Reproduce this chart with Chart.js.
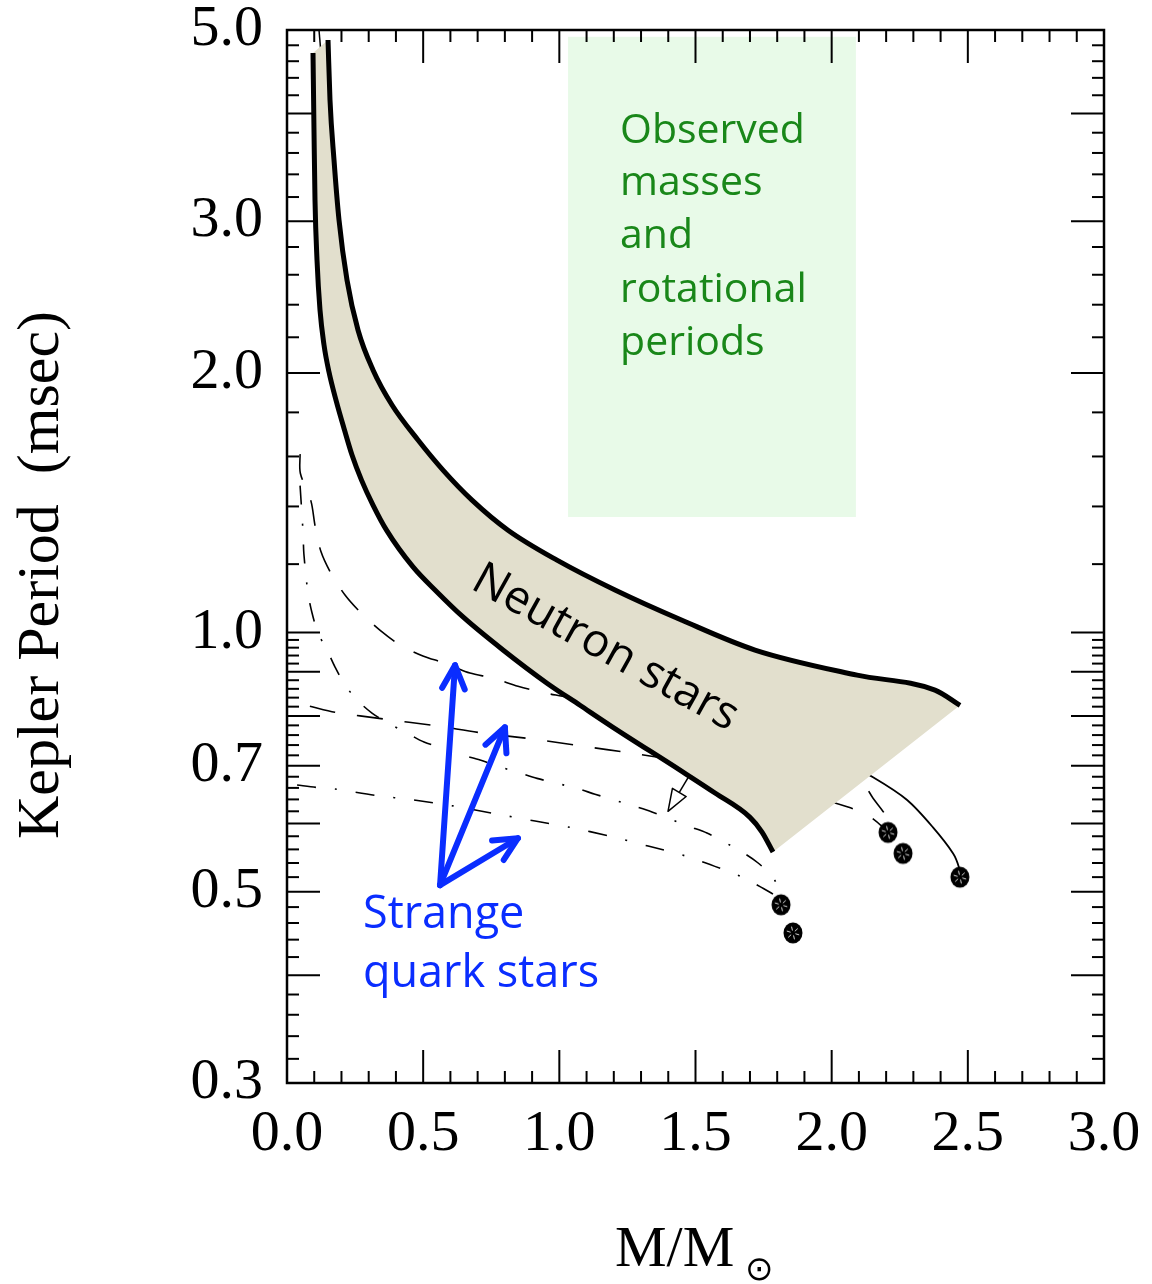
<!DOCTYPE html>
<html>
<head>
<meta charset="utf-8">
<script src="https://cdn.jsdelivr.net/npm/chart.js@4.4.1/dist/chart.umd.min.js"></script>
<style>
  html, body { margin: 0; padding: 0; background: #fff; }
  #c { display: block; }
</style>
</head>
<body>
<canvas id="c" width="1152" height="1284"></canvas>
<script>
// eixos
const xTickValues = [0, 0.5, 1.0, 1.5, 2.0, 2.5, 3.0];
const yTickValues = [0.3, 0.5, 0.7, 1.0, 2.0, 3.0, 5.0];

// faixa das estrelas de neutrons (borda superior / inferior)
const upperMass = [0.1506, 0.1579, 0.1726, 0.1910, 0.2203, 0.2607, 0.3158, 0.3856, 0.4810, 0.5728, 0.6793, 0.8115, 0.9914, 1.2044, 1.4504, 1.7185, 2.0934, 2.3795, 2.4713];
const upperPeriod = [4.868, 4.147, 3.533, 3.009, 2.564, 2.243, 2.016, 1.836, 1.672, 1.543, 1.424, 1.314, 1.213, 1.120, 1.033, 0.954, 0.892, 0.857, 0.823];
const lowerMass = [0.0955, 0.0991, 0.1028, 0.1102, 0.1212, 0.1359, 0.1542, 0.1799, 0.2111, 0.2387, 0.2736, 0.3158, 0.3654, 0.4627, 0.5508, 0.6463, 0.7932, 0.9547, 1.0759, 1.1971, 1.4431, 1.5716, 1.7001, 1.7442, 1.7846];
const lowerPeriod = [4.701, 3.828, 3.175, 2.704, 2.366, 2.155, 2.005, 1.860, 1.717, 1.606, 1.502, 1.405, 1.314, 1.191, 1.114, 1.042, 0.954, 0.873, 0.823, 0.776, 0.692, 0.651, 0.610, 0.5865, 0.556];

// estrelas estranhas: curvas tracejadas
const dashAMass = [0.048, 0.049, 0.088, 0.103, 0.125, 0.162, 0.213, 0.272, 0.341, 0.415, 0.499, 0.580, 0.672, 0.756, 0.848, 0.936, 1.028, 1.333, 1.700, 1.957, 2.104, 2.152, 2.203, 2.207];
const dashAPeriod = [1.61, 1.53, 1.42, 1.33, 1.24, 1.17, 1.105, 1.053, 1.006, 0.967, 0.939, 0.921, 0.897, 0.885, 0.866, 0.852, 0.841, 0.802, 0.750, 0.707, 0.674, 0.642, 0.609, 0.586];
const dashBMass = [0.084, 0.176, 0.360, 0.536, 0.720, 0.903, 1.083, 1.267, 1.517, 1.810, 2.060, 2.148, 2.233, 2.262];
const dashBPeriod = [0.821, 0.808, 0.793, 0.780, 0.764, 0.752, 0.738, 0.724, 0.702, 0.661, 0.627, 0.609, 0.574, 0.554];

// curvas traco-ponto
const dotDashCMass = [0.048, 0.059, 0.062, 0.077, 0.092, 0.114, 0.147, 0.176, 0.213, 0.257, 0.312, 0.371, 0.441, 0.503, 0.573, 0.643, 0.709, 0.782, 0.848, 0.918, 1.058, 1.131, 1.271, 1.340, 1.472, 1.542, 1.671, 1.730, 1.785, 1.814, 1.814];
const dotDashCPeriod = [1.48, 1.304, 1.233, 1.111, 1.053, 0.998, 0.954, 0.912, 0.869, 0.835, 0.806, 0.785, 0.764, 0.746, 0.734, 0.721, 0.711, 0.698, 0.688, 0.677, 0.660, 0.649, 0.629, 0.619, 0.596, 0.585, 0.556, 0.540, 0.519, 0.496, 0.483];
const dotDashDMass = [0.037, 0.106, 0.176, 0.323, 0.466, 0.610, 0.753, 0.911, 1.039, 1.186, 1.326, 1.465, 1.601, 1.671, 1.737, 1.799, 1.814];
const dotDashDPeriod = [0.665, 0.661, 0.658, 0.647, 0.639, 0.629, 0.617, 0.604, 0.594, 0.580, 0.565, 0.550, 0.531, 0.520, 0.507, 0.493, 0.483];

// linha fina continua
const solidMass = [2.0, 2.152, 2.277, 2.372, 2.446, 2.468, 2.471];
const solidPeriod = [0.72, 0.679, 0.639, 0.594, 0.554, 0.533, 0.520];
const stubMass = [0.1175, 0.1285];
const stubPeriod = [5.0, 4.55];

// massas maximas (pontos)
const maxMass = [1.814, 1.858, 2.207, 2.262, 2.471];
const maxPeriod = [0.483, 0.448, 0.586, 0.554, 0.520];

// caixa de observacoes
const obsMass = [1.032, 2.089];
const obsPeriod = [1.361, 4.91];
const obsLines = ["Observed", "masses", "and", "rotational", "periods"];
const obsLinePeriod = [3.70, 3.22, 2.79, 2.42, 2.10];

// setas azuis
const quarkTail = [0.562, 0.509];
const quarkHeadMass = [0.617, 0.800, 0.848];
const quarkHeadPeriod = [0.916, 0.776, 0.577];

const pts = (xs, ys) => xs.map((x, i) => ({ x: x, y: ys[i] }));

const BAND = 'rgb(226,223,205)';
const GREEN_BOX = 'rgb(232,250,232)';
const GREEN_TXT = 'rgb(25,135,25)';
const BLUE = 'rgb(10,45,255)';
const SERIF = "'Liberation Serif', 'Times New Roman', serif";
const SANS = "'Open Sans', sans-serif";

const makeDot = () => {
  const c = document.createElement('canvas');
  c.width = 22; c.height = 24;
  const g = c.getContext('2d');
  g.fillStyle = '#000';
  g.beginPath(); g.ellipse(11, 12, 9.5, 10.5, 0, 0, Math.PI * 2); g.fill();
  g.strokeStyle = 'rgba(255,255,255,0.85)'; g.lineWidth = 1;
  for (let k = 0; k < 6; k++) {
    const a = k * Math.PI / 3 + 0.3;
    g.beginPath();
    g.moveTo(11 + 2.5 * Math.cos(a), 12 + 2.5 * Math.sin(a));
    g.lineTo(11 + 6.5 * Math.cos(a), 12 + 6.5 * Math.sin(a));
    g.stroke();
  }
  return c;
};

const line = (ctx, x1, y1, x2, y2) => {
  ctx.beginPath(); ctx.moveTo(x1, y1); ctx.lineTo(x2, y2); ctx.stroke();
};

// caixa verde + marcas dos eixos (antes das curvas)
const backPlugin = {
  id: 'backPlugin',
  beforeDatasetsDraw(chart) {
    const { ctx, chartArea: a, scales: { x, y } } = chart;
    ctx.save();
    const bx1 = x.getPixelForValue(obsMass[0]), bx2 = x.getPixelForValue(obsMass[1]);
    const by1 = y.getPixelForValue(obsPeriod[1]), by2 = y.getPixelForValue(obsPeriod[0]);
    ctx.fillStyle = GREEN_BOX;
    ctx.fillRect(bx1, by1, bx2 - bx1, by2 - by1);

    ctx.strokeStyle = '#000';
    ctx.lineWidth = 2;
    for (let i = 0; i <= 30; i++) {
      const px = x.getPixelForValue(i / 10);
      const len = i % 5 === 0 ? 33 : 12;
      line(ctx, px, a.bottom, px, a.bottom - len);
      line(ctx, px, a.top, px, a.top + len);
    }
    const yTicks = [];
    for (let i = 15; i <= 50; i++) yTicks.push([i / 50, i % 5 === 0]);
    for (let i = 6; i <= 25; i++) yTicks.push([i / 5, i % 5 === 0]);
    yTicks.forEach(([v, major]) => {
      const py = y.getPixelForValue(v);
      const len = major ? 33 : 12;
      line(ctx, a.left, py, a.left + len, py);
      line(ctx, a.right, py, a.right - len, py);
    });
    ctx.restore();
  },
  afterDatasetsDraw(chart) {
    const { ctx, chartArea: a, scales: { x, y } } = chart;
    ctx.save();
    // moldura
    ctx.strokeStyle = '#000';
    ctx.lineWidth = 2.5;
    ctx.strokeRect(a.left, a.top, a.right - a.left, a.bottom - a.top);

    // texto verde
    ctx.fillStyle = GREEN_TXT;
    ctx.font = `41px ${SANS}`;
    ctx.textAlign = 'left';
    ctx.textBaseline = 'alphabetic';
    const tx = x.getPixelForValue(1.223);
    obsLines.forEach((t, i) => ctx.fillText(t, tx, y.getPixelForValue(obsLinePeriod[i])));

    // Neutron stars
    ctx.save();
    ctx.translate(x.getPixelForValue(1.168), y.getPixelForValue(0.959));
    ctx.rotate(29 * Math.PI / 180);
    ctx.fillStyle = '#000';
    ctx.font = `46px ${SANS}`;
    ctx.textAlign = 'center';
    ctx.textBaseline = 'middle';
    ctx.fillText('Neutron stars', 0, 0);
    ctx.restore();

    // setas azuis
    ctx.strokeStyle = BLUE;
    ctx.lineWidth = 6;
    ctx.lineCap = 'round';
    ctx.lineJoin = 'round';
    const tx0 = x.getPixelForValue(quarkTail[0]), ty0 = y.getPixelForValue(quarkTail[1]);
    quarkHeadMass.forEach((m, i) => {
      const hx = x.getPixelForValue(m), hy = y.getPixelForValue(quarkHeadPeriod[i]);
      line(ctx, tx0, ty0, hx, hy);
      const ang = Math.atan2(hy - ty0, hx - tx0);
      const L = 26, w = 0.45;
      ctx.beginPath();
      ctx.moveTo(hx - L * Math.cos(ang - w), hy - L * Math.sin(ang - w));
      ctx.lineTo(hx, hy);
      ctx.lineTo(hx - L * Math.cos(ang + w), hy - L * Math.sin(ang + w));
      ctx.stroke();
    });
    ctx.fillStyle = BLUE;
    ctx.font = `45px ${SANS}`;
    ctx.textAlign = 'left';
    ctx.textBaseline = 'alphabetic';
    const qx = x.getPixelForValue(0.279);
    ctx.fillText('Strange', qx, y.getPixelForValue(0.454));
    ctx.fillText('quark stars', qx, y.getPixelForValue(0.388));

    // seta vazada
    ctx.strokeStyle = '#000';
    ctx.lineWidth = 1.5;
    ctx.lineCap = 'butt';
    const ax0 = x.getPixelForValue(1.475), ay0 = y.getPixelForValue(0.68);
    const ax1 = x.getPixelForValue(1.399), ay1 = y.getPixelForValue(0.620);
    const ang = Math.atan2(ay1 - ay0, ax1 - ax0);
    const hl = 22, hw = 8;
    const bxp = ax1 - hl * Math.cos(ang), byp = ay1 - hl * Math.sin(ang);
    line(ctx, ax0, ay0, bxp, byp);
    ctx.beginPath();
    ctx.moveTo(ax1, ay1);
    ctx.lineTo(bxp + hw * Math.sin(ang), byp - hw * Math.cos(ang));
    ctx.lineTo(bxp - hw * Math.sin(ang), byp + hw * Math.cos(ang));
    ctx.closePath();
    ctx.fillStyle = '#fff';
    ctx.fill();
    ctx.stroke();

    // titulos dos eixos
    ctx.fillStyle = '#000';
    ctx.save();
    ctx.translate(42, 575);
    ctx.rotate(-Math.PI / 2);
    ctx.font = `60px ${SERIF}`;
    ctx.textAlign = 'center';
    ctx.textBaseline = 'middle';
    ctx.fillText('Kepler Period  (msec)', 0, 0);
    ctx.restore();
    ctx.font = `58px ${SERIF}`;
    ctx.textAlign = 'left';
    ctx.textBaseline = 'alphabetic';
    ctx.fillText('M/M', 615, 1266);
    ctx.font = `34px 'DejaVu Sans', sans-serif`;
    ctx.fillText('\u2299', 745, 1280);
    ctx.restore();
  }
};

const bandPolygon = pts(upperMass, upperPeriod).concat(pts(lowerMass, lowerPeriod).reverse());

const dotDash = [19, 19, 2, 19];
const dashed = [26, 22];

const noPad = s => { s.paddingTop = 0; s.paddingBottom = 0; s.paddingLeft = 0; s.paddingRight = 0; };

new Chart(document.getElementById('c'), {
  type: 'scatter',
  data: {
    datasets: [
      { label: 'max', data: pts(maxMass, maxPeriod), pointStyle: makeDot(), pointRadius: 10, showLine: false, order: 0 },
      { label: 'upper', data: pts(upperMass, upperPeriod), showLine: true, borderColor: '#000', borderWidth: 5, pointRadius: 0, cubicInterpolationMode: 'monotone', order: 1 },
      { label: 'lower', data: pts(lowerMass, lowerPeriod), showLine: true, borderColor: '#000', borderWidth: 5, pointRadius: 0, cubicInterpolationMode: 'monotone', order: 1 },
      { label: 'band', data: bandPolygon, showLine: true, fill: 'shape', backgroundColor: BAND, borderColor: 'rgba(0,0,0,0)', borderWidth: 1, pointRadius: 0, tension: 0, order: 2 },
      { label: 'dashA', data: pts(dashAMass, dashAPeriod), showLine: true, borderColor: '#000', borderWidth: 1.6, borderDash: dashed, pointRadius: 0, tension: 0.3, order: 3 },
      { label: 'dashB', data: pts(dashBMass, dashBPeriod), showLine: true, borderColor: '#000', borderWidth: 1.6, borderDash: dashed, pointRadius: 0, tension: 0.3, order: 3 },
      { label: 'dotDashC', data: pts(dotDashCMass, dotDashCPeriod), showLine: true, borderColor: '#000', borderWidth: 1.6, borderDash: dotDash, pointRadius: 0, tension: 0.3, order: 3 },
      { label: 'dotDashD', data: pts(dotDashDMass, dotDashDPeriod), showLine: true, borderColor: '#000', borderWidth: 1.6, borderDash: dotDash, pointRadius: 0, tension: 0.3, order: 3 },
      { label: 'solid', data: pts(solidMass, solidPeriod), showLine: true, borderColor: '#000', borderWidth: 1.8, pointRadius: 0, tension: 0.3, order: 3 },
      { label: 'stub', data: pts(stubMass, stubPeriod), showLine: true, borderColor: '#000', borderWidth: 1.5, pointRadius: 0, order: 3 }
    ]
  },
  options: {
    responsive: false,
    animation: false,
    devicePixelRatio: 1,
    layout: { padding: { top: 30, right: 48, left: 0, bottom: 0 } },
    plugins: { legend: { display: false }, tooltip: { enabled: false } },
    scales: {
      x: {
        type: 'linear', min: 0, max: 3, position: 'bottom',
        afterBuildTicks: s => { s.ticks = xTickValues.map(v => ({ value: v })); },
        afterFit: s => { s.height = 201; noPad(s); },
        grid: { display: false, drawTicks: false },
        border: { display: false },
        ticks: {
          autoSkip: false, maxRotation: 0, padding: 17, color: '#000',
          font: { family: SERIF, size: 58, lineHeight: 1.2 },
          callback: v => Number(v).toFixed(1)
        }
      },
      y: {
        type: 'logarithmic', min: 0.3, max: 5, position: 'left',
        afterBuildTicks: s => { s.ticks = yTickValues.map(v => ({ value: v })); },
        afterFit: s => { s.width = 287; noPad(s); },
        grid: { display: false, drawTicks: false },
        border: { display: false },
        ticks: {
          autoSkip: false, padding: 24, color: '#000',
          font: { family: SERIF, size: 58, lineHeight: 1 },
          callback: v => Number(v).toFixed(1)
        }
      }
    }
  },
  plugins: [backPlugin]
});
</script>
</body>
</html>
